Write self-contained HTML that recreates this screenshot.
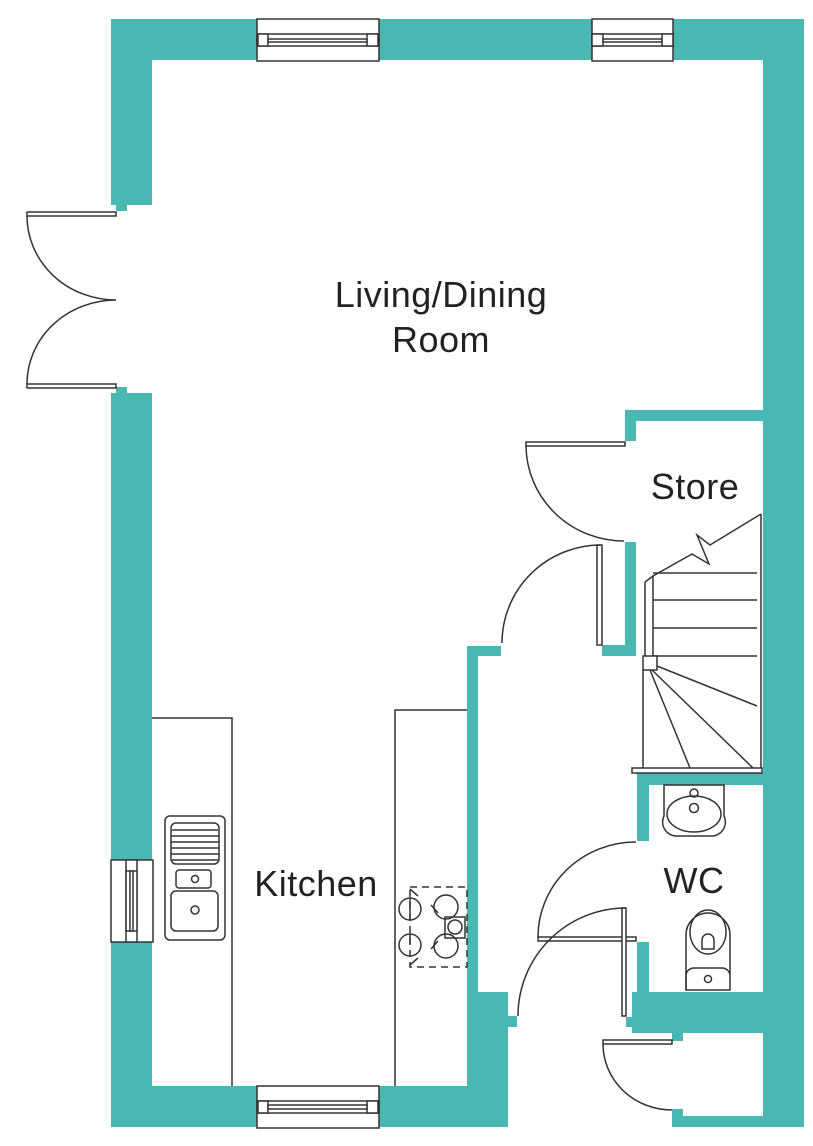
<!DOCTYPE html>
<html><head><meta charset="utf-8"><style>
html,body{margin:0;padding:0;background:#fff;}
svg{display:block;}
text{font-family:"Liberation Sans",sans-serif;fill:#222;}
</style></head><body>
<svg width="813" height="1146" viewBox="0 0 813 1146" xmlns="http://www.w3.org/2000/svg">
<g fill="#4ab8b2">
<rect x="111" y="19" width="693" height="41"/>
<rect x="111" y="19" width="41" height="186"/>
<rect x="116" y="204" width="11" height="7"/>
<rect x="116" y="387" width="11" height="7"/>
<rect x="111" y="393" width="41" height="734"/>
<rect x="111" y="1086" width="397" height="41"/>
<rect x="763" y="19" width="41" height="1108"/>
<rect x="467" y="646" width="11" height="481"/>
<rect x="467" y="646" width="34" height="10"/>
<rect x="478" y="992" width="30" height="135"/>
<rect x="508" y="1016" width="9" height="11"/>
<rect x="625" y="410" width="138" height="11"/>
<rect x="625" y="410" width="11" height="31"/>
<rect x="625" y="542" width="11" height="114"/>
<rect x="602" y="645" width="34" height="11"/>
<rect x="637" y="773" width="126" height="12"/>
<rect x="637" y="773" width="12" height="68"/>
<rect x="637" y="942" width="12" height="52"/>
<rect x="632" y="992" width="131" height="41"/>
<rect x="626" y="1017" width="8" height="10"/>
<rect x="672" y="1030" width="11" height="11"/>
<rect x="672" y="1109" width="11" height="18"/>
<rect x="672" y="1116" width="91" height="11"/>
</g>
<g fill="#fff" stroke="#333" stroke-width="1.5">
<rect x="257" y="19" width="122" height="42"/>
<rect x="257" y="34" width="122" height="12"/>
<rect x="258" y="34" width="10" height="12"/><rect x="367" y="34" width="11" height="12"/>
<rect x="268" y="39" width="99" height="3"/>
<rect x="592" y="19" width="81" height="42"/>
<rect x="592" y="34" width="81" height="12"/>
<rect x="592" y="34" width="11" height="12"/><rect x="662" y="34" width="11" height="12"/>
<rect x="603" y="39" width="59" height="3"/>
<rect x="257" y="1086" width="122" height="42"/>
<rect x="257" y="1101" width="122" height="12"/>
<rect x="258" y="1101" width="10" height="12"/><rect x="367" y="1101" width="11" height="12"/>
<rect x="268" y="1105" width="99" height="4"/>
<rect x="111" y="860" width="42" height="82"/>
<rect x="126" y="860" width="11" height="82"/>
<rect x="126" y="871" width="11" height="60"/>
<rect x="130" y="871" width="3" height="60"/>
<rect x="27" y="212" width="89" height="4"/>
<rect x="27" y="384" width="89" height="4"/>
<rect x="526" y="442" width="99" height="4"/>
<rect x="597" y="545" width="5" height="100"/>
<rect x="538" y="937" width="98" height="4"/>
<rect x="622" y="908" width="4" height="108"/>
<rect x="603" y="1040" width="69" height="4"/>
</g>
<g fill="none" stroke="#333" stroke-width="1.5">
<path d="M27 216 A89 84 0 0 0 116 300 A89 84 0 0 0 27 384"/>
<path d="M526 446 A98 96 0 0 0 624 541"/>
<path d="M601 545 A99 98 0 0 0 502 643"/>
<path d="M538 937 A98 95 0 0 1 636 842"/>
<path d="M518 1016 A108 108 0 0 1 626 908"/>
<path d="M603 1044 A69 66 0 0 0 672 1110"/>
<path d="M152 718 H232 V1086"/>
<path d="M395 1086 V710 H467"/>
<rect x="165" y="816" width="60" height="124" rx="5"/>
<rect x="171" y="823" width="48" height="41" rx="5"/>
<path d="M172 830H218M171 836H219M171 842H219M171 848H219M171 854H219M172 860H218"/>
<rect x="176" y="870" width="35" height="18" rx="3"/>
<circle cx="195" cy="879" r="3.5"/>
<rect x="171" y="891" width="47" height="40" rx="5"/>
<circle cx="195" cy="910" r="4"/>
<rect x="410" y="887" width="57" height="80" stroke-dasharray="7,5"/>
<circle cx="410" cy="909" r="11"/><path d="M410 898V920"/>
<circle cx="410" cy="945" r="11"/><path d="M410 934V944"/>
<circle cx="446" cy="907" r="12"/>
<circle cx="446" cy="946" r="12"/>
<rect x="445" y="917" width="20" height="21"/>
<circle cx="455" cy="927" r="7"/>
<path d="M431 905 L438 913 M431 949 L438 941 M410 889 L418 896 M410 965 L418 958"/>
<path d="M761 514 V773"/>
<rect x="632" y="768" width="130" height="5" fill="#fff"/>
<path d="M645 582 L653 576 V656 M645 582 V656"/>
<path d="M653 573 H757 M653 600 H757 M653 628 H757 M653 656 H757"/>
<rect x="643" y="656" width="14" height="14" fill="#fff"/>
<path d="M643 670 V768"/>
<path d="M657 666 L757 706 M652 670 L753 768 M650 670 L690 768"/>
<path d="M653 576 L692 554 L709 564 L697 535 L710 545 L761 514"/>
<path d="M664 785 H724 V816 A14 14 0 0 1 710 836 H678 A14 14 0 0 1 664 816 Z"/>
<ellipse cx="694" cy="814" rx="27" ry="18"/>
<circle cx="694" cy="793" r="4"/><circle cx="694" cy="808" r="4.5"/>
<path d="M686 990 V935 A22 22 0 0 1 730 935 V990 Z"/>
<ellipse cx="708" cy="932" rx="18" ry="22"/>
<path d="M702 949 V940 A6 6 0 0 1 714 940 V949 Z"/>
<path d="M686 990 V975 A8 8 0 0 1 694 968 H722 A8 8 0 0 1 730 975"/>
<circle cx="708" cy="979" r="3.5"/>
</g>
<g font-size="36" letter-spacing="0.5">
<text x="441" y="307" text-anchor="middle">Living/Dining</text>
<text x="441" y="352" text-anchor="middle">Room</text>
<text x="695" y="499" text-anchor="middle">Store</text>
<text x="316" y="896" text-anchor="middle">Kitchen</text>
<text x="694" y="893" text-anchor="middle">WC</text>
</g>
</svg>
</body></html>
